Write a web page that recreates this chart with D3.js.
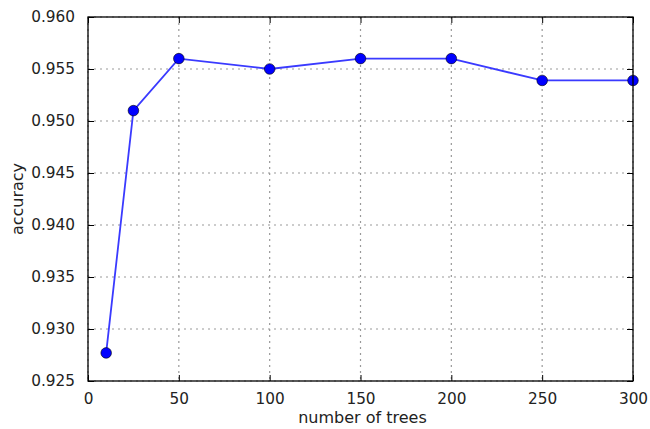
<!DOCTYPE html>
<html><head><meta charset="utf-8">
<script src="https://cdn.jsdelivr.net/npm/d3@7"></script>
<style>body{margin:0;background:#fff;} text{font-family:"DejaVu Sans",sans-serif;}</style>
</head><body>
<svg id="c" width="650" height="429"></svg>
<script>
const trees = [10, 25, 50, 100, 150, 200, 250, 300];
const accuracy = [0.9277, 0.9510, 0.9560, 0.9550, 0.9560, 0.9560, 0.9539, 0.9539];
const xTicks = [0, 50, 100, 150, 200, 250, 300];
const yTicks = [0.925, 0.930, 0.935, 0.940, 0.945, 0.950, 0.955, 0.960];

const svg = d3.select("#c");
const L = 88, R = 633, T = 17, B = 381;
const x = d3.scaleLinear().domain([0, 300]).range([L, R]);
const y = d3.scaleLinear().domain([0.925, 0.960]).range([B, T]);
const fs = "15.3px";

// grid
const g = svg.append("g");
g.selectAll(".gx").data(xTicks).enter().append("line")
  .attr("x1", d => x(d)).attr("x2", d => x(d)).attr("y1", T).attr("y2", B)
  .attr("stroke", "#999").attr("stroke-width", 1.2).attr("stroke-dasharray", "2,4");
g.selectAll(".gy").data(yTicks).enter().append("line")
  .attr("y1", d => y(d)).attr("y2", d => y(d)).attr("x1", L).attr("x2", R)
  .attr("stroke", "#999").attr("stroke-width", 1.2).attr("stroke-dasharray", "2,4");

// axes (ticks inward on all sides)
const xb = svg.append("g").attr("transform", `translate(0,${B})`)
  .call(d3.axisBottom(x).tickValues(xTicks).tickSizeInner(-6).tickSizeOuter(0).tickPadding(12).tickFormat(d3.format("d")));
const xt = svg.append("g").attr("transform", `translate(0,${T})`)
  .call(d3.axisTop(x).tickValues(xTicks).tickSizeInner(-6).tickSizeOuter(0).tickFormat(""));
const yl = svg.append("g").attr("transform", `translate(${L},0)`)
  .call(d3.axisLeft(y).tickValues(yTicks).tickSizeInner(-6).tickSizeOuter(0).tickPadding(13).tickFormat(d3.format(".3f")));
const yr = svg.append("g").attr("transform", `translate(${R},0)`)
  .call(d3.axisRight(y).tickValues(yTicks).tickSizeInner(-6).tickSizeOuter(0).tickFormat(""));
[xb, xt, yl, yr].forEach(a => {
  a.select(".domain").remove();
  a.selectAll(".tick line").attr("stroke", "#000").attr("stroke-width", 1);
  a.selectAll("text").attr("font-size", fs).attr("fill", "#222").attr("font-family", "DejaVu Sans");
});

// line + markers
const line = d3.line().x((d, i) => x(trees[i])).y(d => y(d));
svg.append("path").datum(accuracy).attr("d", line)
  .attr("fill", "none").attr("stroke", "#3a3aff").attr("stroke-width", 1.8);
svg.selectAll(".pt").data(accuracy).enter().append("circle")
  .attr("cx", (d, i) => x(trees[i])).attr("cy", d => y(d)).attr("r", 5.3)
  .attr("fill", "#0000ff").attr("stroke", "#000").attr("stroke-width", 0.6);

// frame
svg.append("rect").attr("x", L).attr("y", T).attr("width", R - L).attr("height", B - T)
  .attr("fill", "none").attr("stroke", "#000").attr("stroke-width", 1.3);

// labels
svg.append("text").attr("x", (L + R) / 2 + 2).attr("y", 423).attr("text-anchor", "middle")
  .attr("font-size", "16px").attr("fill", "#222").text("number of trees");
svg.append("text").attr("transform", `translate(23,${(T + B) / 2}) rotate(-90)`).attr("text-anchor", "middle")
  .attr("font-size", "16px").attr("fill", "#222").text("accuracy");
</script>
</body></html>
